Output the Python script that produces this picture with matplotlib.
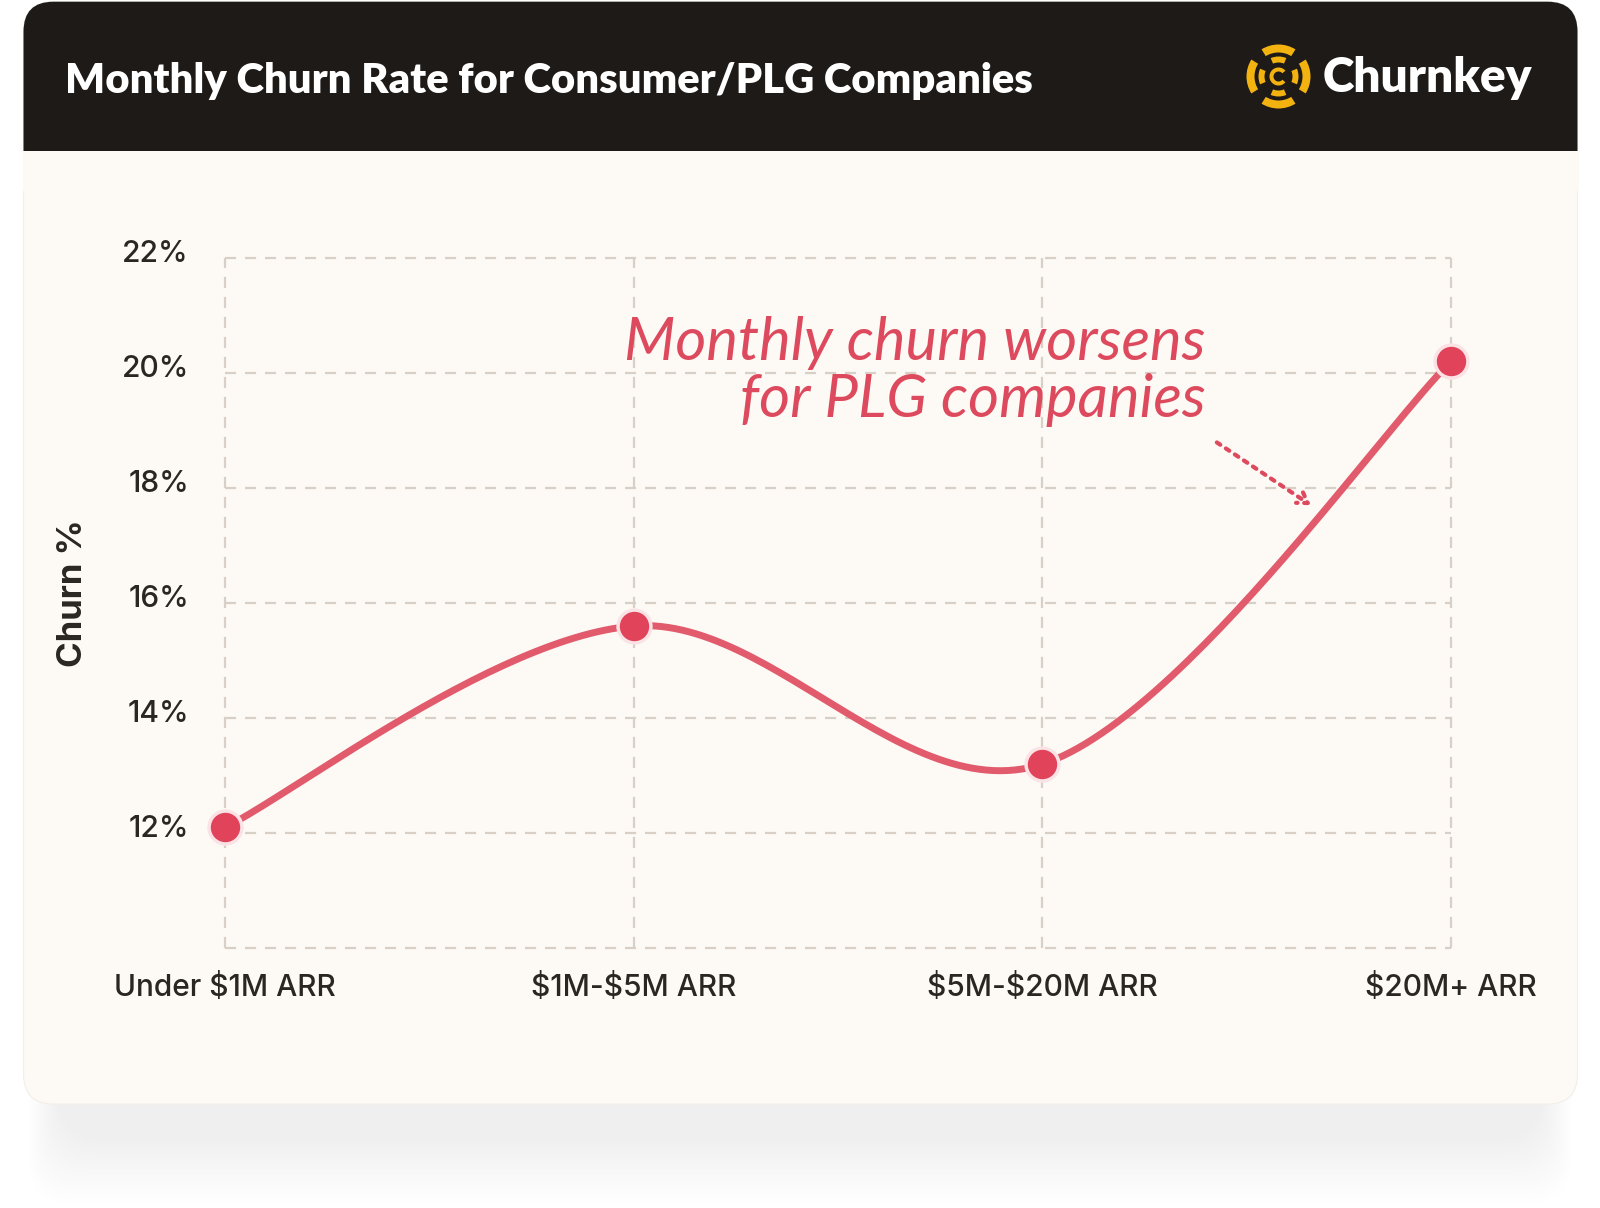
import numpy as np
import matplotlib
matplotlib.use("Agg")
import matplotlib.pyplot as plt
from matplotlib.patches import FancyBboxPatch, Rectangle, Wedge
from matplotlib.transforms import ScaledTranslation

plt.rcParams["text.parse_math"] = False

# data
categories = ["Under $1M ARR", "$1M-$5M ARR", "$5M-$20M ARR", "$20M+ ARR"]
churn = [12.1, 15.6, 13.2, 20.2]
y_ticks = [12, 14, 16, 18, 20, 22]
y_tick_labels = ["12%", "14%", "16%", "18%", "20%", "22%"]
title = "Monthly Churn Rate for Consumer/PLG Companies"
note_lines = ["Monthly churn worsens", "for PLG companies"]

W, H = 1600, 1208
HEADER = "#1E1A17"
CARD = "#FDFAF6"
GRID = "#D8D0C6"
INK = "#2A2622"
LINE = "#E25B6C"
DOT = "#E0435A"
NOTE = "#DD4A5E"
GOLD = "#F2B20F"


def cardinal(xs, ys, n=60):
    """d3-style cardinal spline (tension 0), endpoints duplicated."""
    px = [xs[0]] + list(xs) + [xs[-1]]
    py = [ys[0]] + list(ys) + [ys[-1]]
    t = np.linspace(0, 1, n)
    out_x, out_y = [], []
    for i in range(1, len(px) - 2):
        p0x, p1x, p2x, p3x = px[i - 1], px[i], px[i + 1], px[i + 2]
        p0y, p1y, p2y, p3y = py[i - 1], py[i], py[i + 1], py[i + 2]
        c1x, c1y = p1x + (p2x - p0x) / 6, p1y + (p2y - p0y) / 6
        c2x, c2y = p2x - (p3x - p1x) / 6, p2y - (p3y - p1y) / 6
        bx = (1 - t) ** 3 * p1x + 3 * (1 - t) ** 2 * t * c1x + 3 * (1 - t) * t ** 2 * c2x + t ** 3 * p2x
        by = (1 - t) ** 3 * p1y + 3 * (1 - t) ** 2 * t * c1y + 3 * (1 - t) * t ** 2 * c2y + t ** 3 * p2y
        out_x.extend(bx)
        out_y.extend(by)
    return np.array(out_x), np.array(out_y)


def fit_width(txt, width):
    r = fig.canvas.get_renderer()
    w = txt.get_window_extent(r).width
    txt.set_fontsize(txt.get_fontsize() * width / w)


fig = plt.figure(figsize=(W / 100, H / 100), dpi=100, facecolor="white")

# background card, header, shadow (pixel coordinates)
bg = fig.add_axes([0, 0, 1, 1], zorder=0)
bg.set_xlim(0, W)
bg.set_ylim(H, 0)
bg.axis("off")

# soft shadow under the card: stacked faint layers (1/255 alpha each)
for i in range(16):
    bg.add_patch(FancyBboxPatch((58 - i * 2.0, 340 + i * 0.6), 1484 + i * 4.0, 800 + i * 3.6,
                                boxstyle="round,pad=0,rounding_size=45",
                                fc="black", ec="none", alpha=1.2 / 255))

cx0, cx1, cy0, cy1 = 23.5, 1577.5, 1.7, 1104
bg.add_patch(FancyBboxPatch((cx0, cy0), cx1 - cx0, cy1 - cy0,
                            boxstyle="round,pad=0,rounding_size=30",
                            fc=CARD, ec="#F3EEE8", lw=0.8))
bg.add_patch(FancyBboxPatch((cx0, cy0), cx1 - cx0, 180,
                            boxstyle="round,pad=0,rounding_size=30",
                            fc=HEADER, ec="none"))
bg.add_patch(Rectangle((cx0 - 1, 151), cx1 - cx0 + 2, 40, fc=CARD, ec="none"))

# logo icon
lc = (1278.5, 76.5)
gaps = [45, 135, 225, 315]
for k in range(4):
    a0 = gaps[k] + 13
    a1 = gaps[(k + 1) % 4] - 13 + (360 if k == 3 else 0)
    bg.add_patch(Wedge(lc, 32, a0, a1, width=8, fc=GOLD, ec="none"))
    b0 = gaps[k] + 22
    b1 = gaps[(k + 1) % 4] - 22 + (360 if k == 3 else 0)
    bg.add_patch(Wedge(lc, 20, b0, b1, width=6, fc=GOLD, ec="none"))
bg.add_patch(Wedge(lc, 9, 40, 320, width=4, fc=GOLD, ec="none"))

t_title = fig.text(65 / W, 1 - 92.7 / H, title, color="white", fontsize=27,
                   fontfamily="Lato", fontweight="heavy", ha="left", va="baseline")
fit_width(t_title, 968)
t_logo = fig.text(1323 / W, 1 - 92 / H, "Churnkey", color="white", fontsize=33,
                  fontfamily="Lato", fontweight="heavy", ha="left", va="baseline")
fit_width(t_logo, 210)

# chart
ax = fig.add_axes([225 / W, 1 - 948.3 / H, (1451 - 225) / W, (948.3 - 257.7) / H], zorder=1)
ax.set_facecolor("none")
x = np.arange(len(categories))
ax.set_xlim(0, len(categories) - 1)
ax.set_ylim(10, 22)
for s in ax.spines.values():
    s.set_visible(False)

for xi in x:
    ax.axvline(xi, color=GRID, lw=1.6, ls=(0, (5, 4)), clip_on=False, zorder=1)
for yv in [10] + y_ticks:
    ax.axhline(yv, color=GRID, lw=1.6, ls=(0, (5, 4)), clip_on=False, zorder=1)

sx, sy = cardinal(x, churn)
ax.plot(sx, sy, color=LINE, lw=5, solid_capstyle="round", zorder=3, clip_on=False)
ax.scatter(x, churn, s=560, color=DOT, edgecolor="#FBE3E5", linewidth=2.5, zorder=4, clip_on=False)

ax.set_xticks(x)
ax.set_xticklabels(categories, fontfamily="Inter", fontweight="medium", fontsize=21.5, color=INK)
ax.set_yticks(y_ticks)
ax.set_yticklabels(y_tick_labels, fontfamily="Inter", fontweight="medium", fontsize=21.5, color=INK)
ax.tick_params(axis="both", length=0)
ax.tick_params(axis="y", pad=26)
ax.tick_params(axis="x", pad=18)
for lab in ax.get_yticklabels():
    lab.set_transform(lab.get_transform() + ScaledTranslation(0, 7 / 100, fig.dpi_scale_trans))

fig.text(73 / W, 1 - 593 / H, "Churn %", rotation=90, fontfamily="Inter", fontweight="bold",
         fontsize=25, color=INK, ha="center", va="center")

# annotation
n1 = ax.text(2.40, 22 - (360 - 257.7) / 57.55, note_lines[0], color=NOTE, fontsize=34,
             fontfamily="Lato", fontstyle="italic", ha="right", va="baseline", zorder=5)
fit_width(n1, 581)
ax.text(2.40, 22 - (417 - 257.7) / 57.55, note_lines[1], color=NOTE, fontsize=n1.get_fontsize(),
        fontfamily="Lato", fontstyle="italic", ha="right", va="baseline", zorder=5)
ax.annotate("", xy=(2.657, 17.70), xytext=(2.427, 18.79),
            arrowprops=dict(arrowstyle="->,head_length=0.7,head_width=0.45", color=NOTE,
                            lw=3, ls=(0, (1, 1.6)), shrinkA=0, shrinkB=0), zorder=5)

fig.savefig("out.png", dpi=100, facecolor="white")
